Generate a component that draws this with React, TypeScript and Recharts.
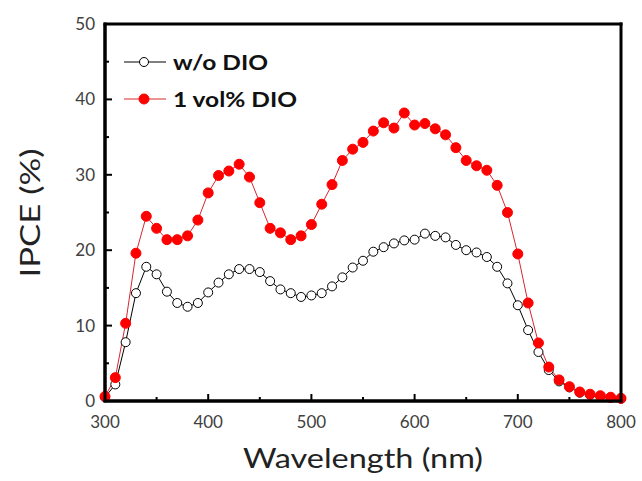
import React from "react";
import { LineChart, Line, XAxis, YAxis } from "recharts";

const wavelength = [
  300, 310, 320, 330, 340, 350, 360, 370, 380, 390, 400, 410, 420, 430, 440,
  450, 460, 470, 480, 490, 500, 510, 520, 530, 540, 550, 560, 570, 580, 590,
  600, 610, 620, 630, 640, 650, 660, 670, 680, 690, 700, 710, 720, 730, 740,
  750, 760, 770, 780, 790, 800,
];

const woDio = [
  0.5, 2.2, 7.8, 14.3, 17.8, 16.8, 14.5, 13.0, 12.5, 13.0, 14.4, 15.7, 16.8,
  17.5, 17.5, 17.1, 15.9, 14.8, 14.3, 13.8, 14.0, 14.3, 15.2, 16.4, 17.7, 18.6,
  19.8, 20.4, 20.9, 21.3, 21.4, 22.2, 21.9, 21.7, 20.7, 20.0, 19.7, 19.1, 17.8,
  15.6, 12.7, 9.4, 6.5, 4.1, 2.6, 1.8, 1.1, 0.8, 0.6, 0.4, 0.3,
];

const withDio = [
  0.6, 3.1, 10.3, 19.6, 24.5, 22.9, 21.4, 21.4, 21.9, 24.0, 27.6, 29.9, 30.5,
  31.4, 29.7, 26.3, 22.9, 22.3, 21.4, 21.9, 23.4, 26.1, 28.7, 31.9, 33.4, 34.3,
  35.8, 36.9, 36.2, 38.2, 36.6, 36.8, 36.1, 35.3, 33.6, 31.9, 31.2, 30.6, 28.6,
  25.0, 19.5, 13.0, 7.7, 4.5, 2.8, 1.9, 1.2, 0.9, 0.7, 0.5, 0.35,
];

const xTicks = [300, 350, 400, 450, 500, 550, 600, 650, 700, 750, 800];
const yTicks = [0, 5, 10, 15, 20, 25, 30, 35, 40, 45, 50];

const data = wavelength.map((w, i) => ({ w, wo: woDio[i], dio: withDio[i] }));

const W = 642;
const H = 481;
const MARGIN = { top: 24, right: 21, left: 0, bottom: 0 };
const PLOT_LEFT = 105;
const PLOT_TOP = 24;
const PLOT_RIGHT = 621;
const PLOT_BOTTOM = 401;
const BORDER = 3;
const FONT = "Lato, 'Open Sans', sans-serif";

const XTick = (props: any) => {
  const { x, payload } = props;
  const major = payload.value % 100 === 0;
  return (
    <g>
      <line
        x1={x}
        x2={x}
        y1={PLOT_BOTTOM}
        y2={PLOT_BOTTOM - (major ? 7 : 4)}
        stroke="#000"
        strokeWidth={2}
      />
      {major && (
        <text
          x={x}
          y={428}
          textAnchor="middle"
          fontSize={17}
          fontFamily={FONT}
          fill="#404040"
        >
          {payload.value}
        </text>
      )}
    </g>
  );
};

const YTick = (props: any) => {
  const { y, payload } = props;
  const major = payload.value % 10 === 0;
  return (
    <g>
      <line
        x1={PLOT_LEFT}
        x2={PLOT_LEFT + (major ? 7 : 4)}
        y1={y}
        y2={y}
        stroke="#000"
        strokeWidth={2}
      />
      {major && (
        <text
          x={95}
          y={y + 6}
          textAnchor="end"
          fontSize={17}
          fontFamily={FONT}
          fill="#404040"
        >
          {payload.value}
        </text>
      )}
    </g>
  );
};

const XTitle = () => (
  <text
    x={363}
    y={468}
    textAnchor="middle"
    fontSize={27}
    fontFamily={FONT}
    fill="#222"
    textLength={240}
    lengthAdjust="spacingAndGlyphs"
  >
    Wavelength (nm)
  </text>
);

const YTitle = () => (
  <text
    x={0}
    y={0}
    transform="translate(40 213) rotate(-90)"
    textAnchor="middle"
    fontSize={27}
    fontFamily={FONT}
    fill="#222"
    textLength={129}
    lengthAdjust="spacingAndGlyphs"
  >
    IPCE (%)
  </text>
);

// plot frame (as filled bars) + legend, drawn over the chart
const Overlay = () => {
  const w = PLOT_RIGHT - PLOT_LEFT;
  const h = PLOT_BOTTOM - PLOT_TOP;
  const b = BORDER / 2;
  return (
    <svg
      width={W}
      height={H}
      style={{ position: "absolute", left: 0, top: 0, pointerEvents: "none" }}
    >
      <rect x={PLOT_LEFT - b} y={PLOT_TOP - b} width={w + BORDER} height={BORDER} fill="#000" />
      <rect x={PLOT_LEFT - b} y={PLOT_BOTTOM - b} width={w + BORDER} height={BORDER} fill="#000" />
      <rect x={PLOT_LEFT - b} y={PLOT_TOP - b} width={BORDER} height={h + BORDER} fill="#000" />
      <rect x={PLOT_RIGHT - b} y={PLOT_TOP - b} width={BORDER} height={h + BORDER} fill="#000" />
      <line x1={124} x2={166} y1={62} y2={62} stroke="#000" strokeWidth={1} />
      <circle cx={144} cy={62} r={4.5} fill="#fff" stroke="#000" strokeWidth={1} />
      <text
        x={173}
        y={69.5}
        fontSize={21}
        fontWeight="bold"
        fontFamily={FONT}
        fill="#111"
        textLength={95}
        lengthAdjust="spacingAndGlyphs"
      >
        w/o DIO
      </text>
      <line x1={124} x2={166} y1={99} y2={99} stroke="#d9262e" strokeWidth={1} />
      <circle cx={144} cy={99} r={5} fill="#ff0000" stroke="#ff0000" />
      <text
        x={173}
        y={106.5}
        fontSize={21}
        fontWeight="bold"
        fontFamily={FONT}
        fill="#111"
        textLength={124}
        lengthAdjust="spacingAndGlyphs"
      >
        1 vol% DIO
      </text>
    </svg>
  );
};

export default function App() {
  return (
    <div
      style={{
        position: "absolute",
        left: 0,
        top: 0,
        width: W,
        height: H,
        background: "#fff",
      }}
    >
      <LineChart width={W} height={H} data={data} margin={MARGIN}>
        <XAxis
          dataKey="w"
          type="number"
          domain={[300, 800]}
          ticks={xTicks}
          tick={<XTick />}
          tickLine={false}
          axisLine={{ stroke: "#000", strokeWidth: 3 }}
          height={80}
          label={{ content: () => <XTitle /> }}
        />
        <YAxis
          type="number"
          domain={[0, 50]}
          ticks={yTicks}
          tick={<YTick />}
          tickLine={false}
          axisLine={{ stroke: "#000", strokeWidth: 3 }}
          width={PLOT_LEFT}
          label={{ content: () => <YTitle /> }}
        />
        <Line
          type="linear"
          dataKey="wo"
          stroke="#000"
          strokeWidth={1}
          dot={{ r: 4.5, fill: "#fff", stroke: "#000", strokeWidth: 1 }}
          isAnimationActive={false}
        />
        <Line
          type="linear"
          dataKey="dio"
          stroke="#d9262e"
          strokeWidth={1}
          dot={{ r: 5, fill: "#ff0000", stroke: "#ff0000", strokeWidth: 1 }}
          isAnimationActive={false}
        />
      </LineChart>
      <Overlay />
    </div>
  );
}
